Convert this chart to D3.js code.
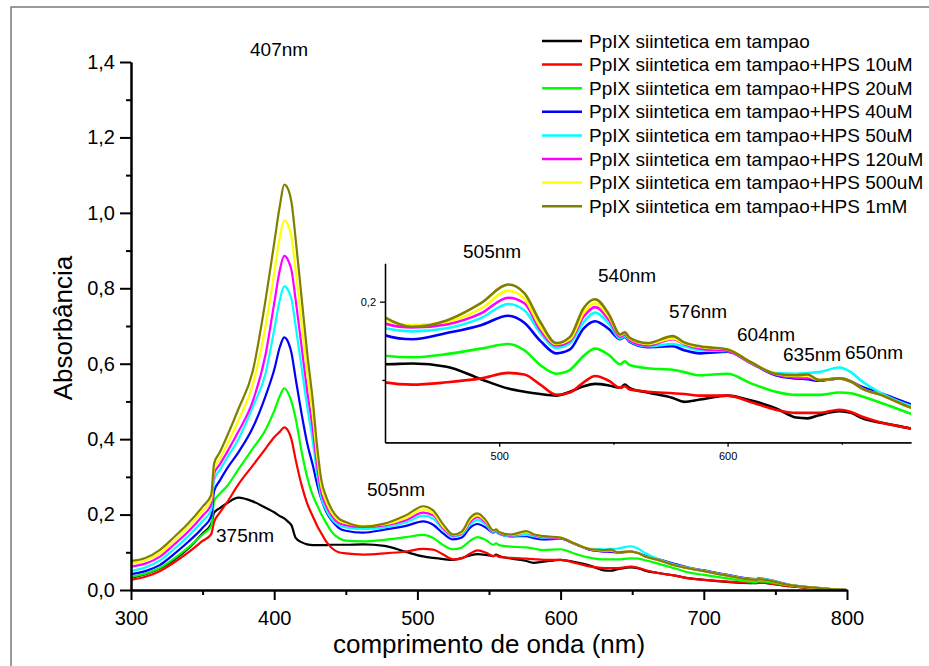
<!DOCTYPE html>
<html><head><meta charset="utf-8">
<script src="https://cdn.jsdelivr.net/npm/d3@7"></script>
<style>
body{margin:0;background:#fff}
svg{display:block}
text{font-family:"Liberation Sans",Arial,Helvetica,sans-serif;fill:#000}
</style>
</head><body>
<svg id="chart" width="929" height="666"></svg>
<script>
// ---------------- DATA ----------------
const wavelengths = [300,310,320,330,340,350,356,358,362,367,375,385,394,400,404,407,410,412,415,419,423,427,430,433,436,440,445,
  450,462,477,492,504,511,518,525,531,537,542,548,553,555,557,565,576,581,588,600,610,621,630,635,640,649,654,659,668,680,690,700,714,737,738,760,784,800];

const seriesNames = [
  "PpIX siintetica em tampao",
  "PpIX siintetica em tampao+HPS 10uM",
  "PpIX siintetica em tampao+HPS 20uM",
  "PpIX siintetica em tampao+HPS 40uM",
  "PpIX siintetica em tampao+HPS 50uM",
  "PpIX siintetica em tampao+HPS 120uM",
  "PpIX siintetica em tampao+HPS 500uM",
  "PpIX siintetica em tampao+HPS 1mM"
];
const seriesColors = ["#000000","#ff0000","#00ff00","#0000ff","#00ffff","#ff00ff","#ffff00","#808000"];

const absBuffer = [0.033,0.042,0.057,0.080,0.110,0.150,0.175,0.205,0.217,0.230,0.245,0.235,0.218,0.206,0.196,0.190,0.180,0.172,0.138,0.127,0.121,0.119,0.119,0.119,0.119,0.120,0.120,
  0.120,0.121,0.117,0.101,0.089,0.085,0.082,0.080,0.085,0.092,0.095,0.093,0.090,0.094,0.090,0.084,0.077,0.072,0.075,0.080,0.074,0.064,0.052,0.051,0.055,0.060,0.058,0.051,0.045,0.038,0.031,0.027,0.022,0.018,0.020,0.010,0.003,0.000];
const absHps10 = [0.027,0.035,0.050,0.073,0.100,0.130,0.148,0.180,0.205,0.232,0.280,0.330,0.375,0.405,0.420,0.431,0.420,0.400,0.345,0.280,0.230,0.195,0.170,0.150,0.130,0.112,0.100,
  0.097,0.094,0.097,0.102,0.109,0.107,0.094,0.081,0.084,0.097,0.105,0.099,0.090,0.092,0.088,0.085,0.083,0.082,0.080,0.080,0.072,0.062,0.058,0.058,0.058,0.062,0.059,0.053,0.045,0.038,0.031,0.027,0.023,0.019,0.020,0.010,0.003,0.000];
const absHps20 = [0.035,0.043,0.058,0.083,0.113,0.147,0.170,0.235,0.255,0.275,0.320,0.375,0.425,0.475,0.515,0.535,0.520,0.500,0.455,0.370,0.300,0.250,0.225,0.200,0.180,0.155,0.138,
  0.131,0.129,0.133,0.140,0.146,0.138,0.119,0.108,0.113,0.131,0.140,0.132,0.120,0.124,0.119,0.115,0.113,0.110,0.106,0.108,0.096,0.085,0.081,0.081,0.081,0.084,0.083,0.079,0.070,0.057,0.046,0.040,0.032,0.021,0.023,0.012,0.003,0.000];
const absHps40 = [0.042,0.050,0.066,0.095,0.128,0.165,0.195,0.262,0.290,0.322,0.365,0.430,0.515,0.584,0.645,0.670,0.655,0.630,0.560,0.470,0.390,0.330,0.280,0.240,0.210,0.185,0.165,
  0.157,0.152,0.160,0.170,0.182,0.173,0.150,0.134,0.139,0.166,0.175,0.165,0.152,0.155,0.149,0.142,0.143,0.138,0.134,0.136,0.122,0.106,0.102,0.101,0.099,0.102,0.098,0.091,0.082,0.069,0.059,0.052,0.042,0.029,0.031,0.014,0.004,0.000];
const absHps50 = [0.050,0.060,0.078,0.108,0.143,0.183,0.212,0.292,0.318,0.350,0.400,0.485,0.575,0.690,0.770,0.805,0.793,0.772,0.700,0.593,0.486,0.393,0.307,0.243,0.214,0.189,0.172,
  0.166,0.162,0.166,0.179,0.197,0.189,0.160,0.141,0.147,0.174,0.186,0.172,0.153,0.156,0.150,0.143,0.146,0.143,0.138,0.137,0.122,0.109,0.108,0.109,0.110,0.116,0.110,0.098,0.082,0.067,0.058,0.051,0.041,0.028,0.030,0.014,0.004,0.000];
const absHps120 = [0.062,0.070,0.088,0.120,0.155,0.197,0.227,0.308,0.333,0.365,0.420,0.500,0.625,0.760,0.850,0.886,0.872,0.849,0.769,0.649,0.529,0.425,0.329,0.257,0.226,0.198,0.178,
  0.172,0.167,0.171,0.185,0.205,0.198,0.164,0.144,0.150,0.181,0.193,0.177,0.155,0.158,0.151,0.144,0.152,0.146,0.140,0.137,0.122,0.107,0.103,0.103,0.100,0.102,0.098,0.089,0.080,0.065,0.057,0.050,0.040,0.027,0.029,0.013,0.004,0.000];
const absHps500 = [0.070,0.078,0.097,0.130,0.167,0.210,0.240,0.322,0.348,0.385,0.450,0.545,0.700,0.840,0.937,0.980,0.965,0.938,0.848,0.713,0.578,0.462,0.354,0.273,0.237,0.206,0.184,
  0.177,0.170,0.174,0.191,0.214,0.204,0.168,0.146,0.152,0.186,0.198,0.181,0.157,0.160,0.153,0.146,0.153,0.147,0.142,0.139,0.123,0.108,0.105,0.105,0.100,0.102,0.098,0.089,0.080,0.065,0.057,0.050,0.040,0.027,0.029,0.013,0.004,0.000];
const absHps1mM = [0.077,0.085,0.106,0.140,0.177,0.221,0.252,0.335,0.365,0.407,0.480,0.580,0.770,0.920,1.020,1.075,1.060,1.030,0.930,0.780,0.630,0.500,0.380,0.290,0.250,0.215,0.190,
  0.180,0.168,0.176,0.198,0.222,0.211,0.174,0.147,0.155,0.192,0.203,0.184,0.158,0.161,0.154,0.147,0.156,0.148,0.143,0.139,0.123,0.108,0.106,0.107,0.100,0.102,0.098,0.089,0.080,0.065,0.057,0.050,0.040,0.027,0.029,0.013,0.004,0.000];

const seriesValues = [absBuffer, absHps10, absHps20, absHps40, absHps50, absHps120, absHps500, absHps1mM];

const xMajorTicks = [300,400,500,600,700,800];
const xMinorTicks = [350,450,550,650,750];
const yMajorTicks = [0,0.2,0.4,0.6,0.8,1.0,1.2,1.4];
const yMinorTicks = [0.1,0.3,0.5,0.7,0.9,1.1,1.3];
const insetXMajor = [500,600];
const insetXMinor = [550,650];
const insetYMajor = [0.2];
const insetYMinor = [0.1];
const mainPeakLabels = ["407nm","505nm","375nm"];
const insetPeakLabels = ["505nm","540nm","576nm","604nm","635nm","650nm"];

// ---------------- DRAW ----------------
const svg = d3.select("#chart");
const comma = v => d3.format(".1f")(v).replace(".", ",");

// outer frame (left & top edges visible)
svg.append("rect").attr("x",11).attr("y",7).attr("width",960).attr("height",700)
  .attr("fill","none").attr("stroke","#7a7a7a").attr("stroke-width",1.5);

const x = d3.scaleLinear().domain([300,800]).range([131,847]);
const y = d3.scaleLinear().domain([0,1.4]).range([590,62]);

const series = seriesNames.map((n,i)=>({name:n,color:seriesColors[i],
  pts:wavelengths.map((w,j)=>[w,seriesValues[i][j]])}));

// main curves
const lineMain = d3.line().x(d=>x(d[0])).y(d=>y(d[1])).curve(d3.curveMonotoneX);
const gMain = svg.append("g");
series.forEach(s=>{
  gMain.append("path").attr("d",lineMain(s.pts)).attr("fill","none")
    .attr("stroke",s.color).attr("stroke-width",2.2).attr("stroke-linejoin","round");
});

// main axes
function styleAxis(g, w){
  g.select(".domain").attr("stroke","#000").attr("stroke-width",w);
  g.selectAll(".tick line").attr("stroke","#000").attr("stroke-width",w);
}
const gx = svg.append("g").attr("transform","translate(0,590)")
  .call(d3.axisBottom(x).tickValues(xMajorTicks).tickSize(10).tickSizeOuter(0).tickPadding(11).tickFormat(d3.format("d")));
gx.selectAll("text").attr("font-size",20).attr("font-family","Liberation Sans, Arial, sans-serif");
styleAxis(gx,2);
const gxm = svg.append("g").attr("transform","translate(0,590)")
  .call(d3.axisBottom(x).tickValues(xMinorTicks).tickSize(5).tickSizeOuter(0).tickFormat(""));
styleAxis(gxm,2);

const gy = svg.append("g").attr("transform","translate(131,0)")
  .call(d3.axisLeft(y).tickValues(yMajorTicks).tickSize(11).tickSizeOuter(0).tickPadding(5).tickFormat(comma));
gy.selectAll("text").attr("font-size",20).attr("font-family","Liberation Sans, Arial, sans-serif");
styleAxis(gy,2);
const gym = svg.append("g").attr("transform","translate(131,0)")
  .call(d3.axisLeft(y).tickValues(yMinorTicks).tickSize(5).tickSizeOuter(0).tickFormat(""));
styleAxis(gym,2);

// axis titles
svg.append("text").attr("x",489).attr("y",653).attr("text-anchor","middle")
  .attr("font-size",26).text("comprimento de onda (nm)");
svg.append("text").attr("transform","translate(72,328) rotate(-90)").attr("text-anchor","middle")
  .attr("font-size",26).text("Absorbância");

// main annotations
const mainLabelPos = [[250,56],[367,496],[216,542]];
mainPeakLabels.forEach((t,i)=>{
  svg.append("text").attr("x",mainLabelPos[i][0]).attr("y",mainLabelPos[i][1]).attr("font-size",19).text(t);
});

// ---------------- INSET ----------------
const xi = d3.scaleLinear().domain([450,680.3]).range([385,911]);
const yi = d3.scaleLinear().domain([0.0204,0.249]).range([442.3,263.3]);
svg.append("rect").attr("x",385).attr("y",263).attr("width",526).attr("height",179).attr("fill","#fff");
svg.append("clipPath").attr("id","insetClip").append("rect")
  .attr("x",385).attr("y",250).attr("width",526).attr("height",192.3);
const lineInset = d3.line().x(d=>xi(d[0])).y(d=>yi(d[1])).curve(d3.curveMonotoneX);
const gIn = svg.append("g").attr("clip-path","url(#insetClip)");
series.forEach(s=>{
  gIn.append("path").attr("d",lineInset(s.pts)).attr("fill","none")
    .attr("stroke",s.color).attr("stroke-width",2.6).attr("stroke-linejoin","round");
});
const gix = svg.append("g").attr("transform","translate(0,442.3)")
  .call(d3.axisBottom(xi).tickValues(insetXMajor).tickSize(4.5).tickSizeOuter(0).tickPadding(5).tickFormat(d3.format("d")));
gix.selectAll("text").attr("font-size",11).attr("font-family","Liberation Sans, Arial, sans-serif");
styleAxis(gix,1.3);
const gixm = svg.append("g").attr("transform","translate(0,442.3)")
  .call(d3.axisBottom(xi).tickValues(insetXMinor).tickSize(2.5).tickSizeOuter(0).tickFormat(""));
styleAxis(gixm,1.3);
const giy = svg.append("g").attr("transform","translate(385,0)")
  .call(d3.axisLeft(yi).tickValues(insetYMajor).tickSize(5).tickSizeOuter(0).tickPadding(4).tickFormat(comma));
giy.selectAll("text").attr("font-size",11).attr("font-family","Liberation Sans, Arial, sans-serif");
styleAxis(giy,1.3);
const giym = svg.append("g").attr("transform","translate(385,0)")
  .call(d3.axisLeft(yi).tickValues(insetYMinor).tickSize(2.7).tickSizeOuter(0).tickFormat(""));
styleAxis(giym,1.3);

const insetLabelPos = [[463,258],[598,282],[669,318],[737,341],[783,361],[845,359]];
insetPeakLabels.forEach((t,i)=>{
  svg.append("text").attr("x",insetLabelPos[i][0]).attr("y",insetLabelPos[i][1]).attr("font-size",19).text(t);
});

// ---------------- LEGEND ----------------
const gl = svg.append("g");
series.forEach((s,i)=>{
  const yy = 41 + i*23.6;
  gl.append("line").attr("x1",542).attr("x2",582).attr("y1",yy).attr("y2",yy)
    .attr("stroke",s.color).attr("stroke-width",2.5);
  gl.append("text").attr("x",589).attr("y",yy).attr("dy","0.35em").attr("font-size",19).text(s.name);
});
</script>
</body></html>
